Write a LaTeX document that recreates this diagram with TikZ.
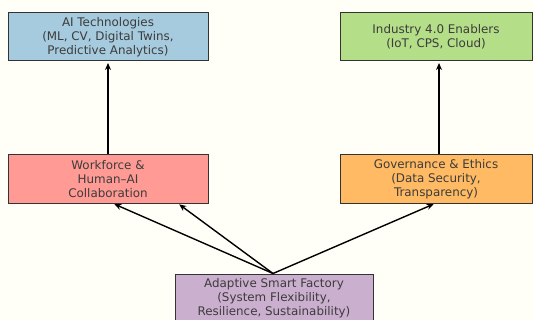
\documentclass[tikz,border=0pt]{standalone}
\usepackage{fontspec}
\setmainfont{DejaVu Sans}
\usetikzlibrary{arrows.meta}
\definecolor{bgcream}{HTML}{FFFEF7}
\definecolor{aiblue}{HTML}{A6CBDE}
\definecolor{indgreen}{HTML}{B4DE88}
\definecolor{wfsalmon}{HTML}{FF9A94}
\definecolor{govorange}{HTML}{FFBA63}
\definecolor{adpurple}{HTML}{CBAFCF}
\definecolor{inkgray}{HTML}{3C3C3C}
\definecolor{edgegray}{HTML}{333333}
\tikzset{
  box/.style={draw=edgegray, line width=1pt, rectangle, minimum height=48pt,
    align=center, text=inkgray, inner sep=0pt,
    font=\fontsize{11.9pt}{14pt}\selectfont},
  link/.style={draw=black, line width=1.4pt,
    -{Stealth[length=7pt,width=6pt]}, shorten >=1.5pt}
}
\begin{document}
\begin{tikzpicture}[x=1pt,y=-1pt]
  \fill[bgcream] (0,0) rectangle (534,320);
  \useasboundingbox (0,0) rectangle (534,320);

  \node[box, fill=aiblue, minimum width=200pt] (ai) at (108,37)
    {AI Technologies\\(ML, CV, Digital Twins,\\Predictive Analytics)};
  \node[box, fill=indgreen, minimum width=192pt] (ind) at (436,37)
    {Industry 4.0 Enablers\\(IoT, CPS, Cloud)};
  \node[box, fill=wfsalmon, minimum width=200pt] (wf) at (108,179)
    {Workforce \&\\Human–AI\\Collaboration};
  \node[box, fill=govorange, minimum width=192pt] (gov) at (436,179)
    {Governance \& Ethics\\(Data Security,\\Transparency)};
  \node[box, fill=adpurple, minimum width=198pt] (asf) at (274,298)
    {Adaptive Smart Factory\\(System Flexibility,\\Resilience, Sustainability)};

  \draw[link] (wf.north) -- (ai.south);
  \draw[link] ([xshift=3pt]gov.north) -- ([xshift=3pt]ind.south);
  \draw[link] ([xshift=-1pt]asf.north) -- ([xshift=5pt]wf.south);
  \draw[link] ([xshift=-1pt]asf.north) -- ([xshift=70pt]wf.south);
  \draw[link] ([xshift=-1pt]asf.north) -- ([xshift=-1pt]gov.south);
\end{tikzpicture}
\end{document}
